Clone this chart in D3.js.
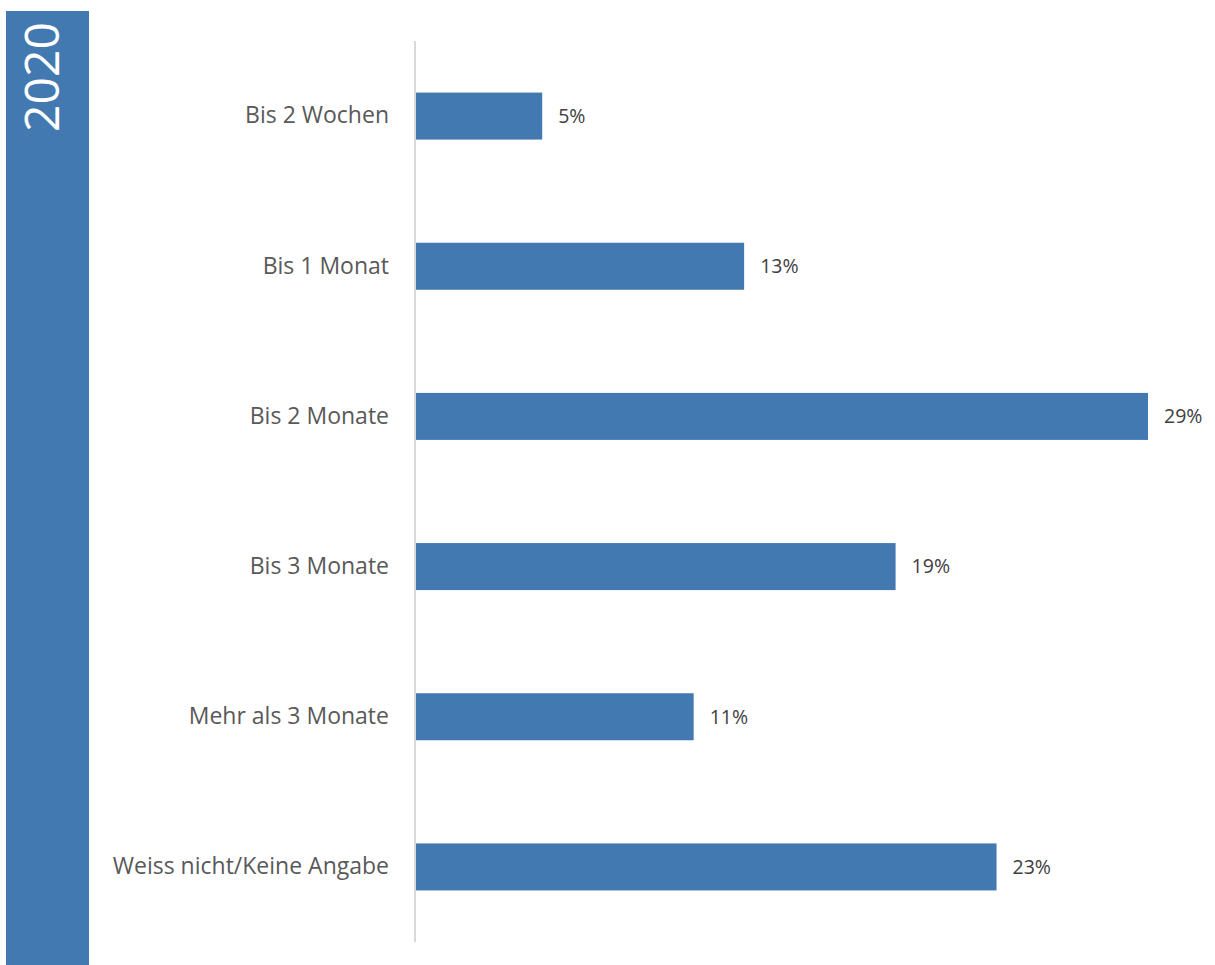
<!DOCTYPE html>
<html>
<head>
<meta charset="utf-8">
<script src="https://cdn.jsdelivr.net/npm/d3@7"></script>
<style>
  html, body { margin: 0; padding: 0; background: #fff; }
  svg { display: block; }
</style>
</head>
<body>
<svg id="chart" width="1215" height="965"></svg>
<script>
// Dauer – Anteile der Antworten (in %)
const year = "2020";
const categories = [
  "Bis 2 Wochen",
  "Bis 1 Monat",
  "Bis 2 Monate",
  "Bis 3 Monate",
  "Mehr als 3 Monate",
  "Weiss nicht/Keine Angabe"
];
const values = [5, 13, 29, 19, 11, 23];

const barColor = "#4279b0";
const font = "'Open Sans', 'Noto Sans', sans-serif";

const svg = d3.select("#chart");

// Side band with the year
svg.append("rect")
  .attr("x", 6).attr("y", 11)
  .attr("width", 83).attr("height", 954)
  .attr("fill", barColor);

svg.append("text")
  .attr("transform", "translate(59,77) rotate(-90)")
  .attr("text-anchor", "middle")
  .attr("font-family", font)
  .attr("font-size", 48)
  .attr("fill", "#ffffff")
  .text(year);

// Plot area
const x0 = 416, yTop = 41, yBottom = 942;

const x = d3.scaleLinear()
  .domain([0, 29])
  .range([x0, x0 + 732]);

const y = d3.scaleBand()
  .domain(categories)
  .range([yTop, yBottom])
  .paddingInner(0.687)
  .paddingOuter(0.3435);

// Category axis (line only, labels drawn via axis ticks)
const yAxis = d3.axisLeft(y).tickSize(0).tickPadding(26);
const gy = svg.append("g")
  .attr("transform", `translate(${x0 - 1},0)`)
  .call(yAxis);
gy.select(".domain")
  .attr("d", `M0,${yTop}V${yBottom}`)
  .attr("stroke", "#d9d9d9")
  .attr("stroke-width", 2);
gy.selectAll(".tick text")
  .attr("font-family", font)
  .attr("font-size", 23)
  .attr("fill", "#595959");

const data = categories.map((c, i) => ({ c, v: values[i] }));

// Bars
svg.append("g").selectAll("rect")
  .data(data)
  .join("rect")
  .attr("x", x(0))
  .attr("y", d => y(d.c))
  .attr("width", d => x(d.v) - x(0))
  .attr("height", y.bandwidth())
  .attr("fill", barColor);

// Value labels
svg.append("g").selectAll("text")
  .data(data)
  .join("text")
  .attr("x", d => x(d.v) + 16)
  .attr("y", d => y(d.c) + y.bandwidth() / 2)
  .attr("dy", "0.35em")
  .attr("font-family", font)
  .attr("font-size", 19.5)
  .attr("fill", "#404040")
  .text(d => d.v + "%");
</script>
</body>
</html>
